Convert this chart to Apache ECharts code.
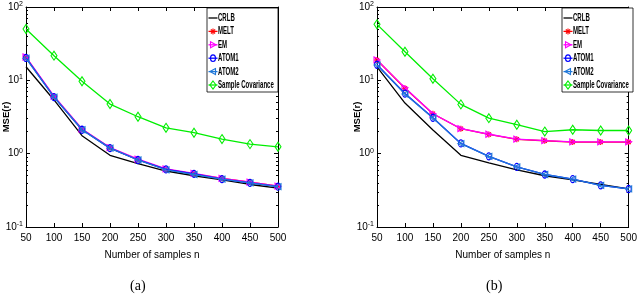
<!DOCTYPE html>
<html><head><meta charset="utf-8">
<script src="https://cdn.jsdelivr.net/npm/echarts@6/dist/echarts.min.js"></script>
<style>html,body{margin:0;padding:0;background:#fff}#c{width:640px;height:294px}</style>
</head><body><div id="c"></div>
<script>
const samples = [50,100,150,200,250,300,350,400,450,500];
const seriesNames = ['CRLB','MELT','EM','ATOM1','ATOM2','Sample Covariance'];
// panel (a)
const crlbA  = [15.3, 5.4, 1.76, 0.95, 0.73, 0.58, 0.50, 0.44, 0.38, 0.34];
const meltA  = [20.5, 6.0, 2.15, 1.20, 0.83, 0.61, 0.53, 0.46, 0.41, 0.36];
const emA    = [20.8, 6.1, 2.17, 1.21, 0.84, 0.62, 0.54, 0.46, 0.41, 0.36];
const atom1A = [20.2, 5.9, 2.12, 1.19, 0.82, 0.61, 0.53, 0.45, 0.40, 0.355];
const atom2A = [20.0, 5.9, 2.12, 1.19, 0.82, 0.60, 0.52, 0.45, 0.40, 0.355];
const scA    = [50, 21.7, 9.7, 4.75, 3.19, 2.25, 1.93, 1.58, 1.35, 1.24];
// panel (b)
const crlbB  = [15.3, 4.9, 2.1, 0.95, 0.75, 0.60, 0.50, 0.44, 0.38, 0.33];
const meltB  = [18.9, 7.8, 3.5, 2.19, 1.83, 1.57, 1.50, 1.44, 1.44, 1.44];
const emB    = [19.0, 7.9, 3.5, 2.20, 1.84, 1.58, 1.51, 1.45, 1.45, 1.45];
const atom1B = [16.3, 6.6, 3.09, 1.38, 0.92, 0.66, 0.52, 0.45, 0.37, 0.33];
const atom2B = [16.2, 6.5, 3.07, 1.37, 0.92, 0.66, 0.52, 0.45, 0.37, 0.33];
const scB    = [58, 24.5, 10.5, 4.7, 3.05, 2.48, 2.0, 2.12, 2.07, 2.07];
const yTicks = [0.1, 1, 10, 100];
const yTickExp = ['-1','0','1','2'];

const FONT = 'Liberation Sans, Arial, sans-serif';
const styles = {
  'CRLB': {color:'#000000', symbol:'none', size:0},
  'MELT': {color:'#ff0000', symbol:'path://M0,-10L0,10M-10,0L10,0M-7,-7L7,7M-7,7L7,-7', size:6},
  'EM': {color:'#ff00ff', symbol:'triangle', rotate:-90, size:6},
  'ATOM1': {color:'#0000ff', symbol:'circle', size:[5,7]},
  'ATOM2': {color:'#1f77d8', symbol:'triangle', rotate:90, size:6},
  'Sample Covariance': {color:'#00ee00', symbol:'diamond', size:[6,9]}
};
const dataA = [crlbA, meltA, emA, atom1A, atom2A, scA];
const dataB = [crlbB, meltB, emB, atom1B, atom2B, scB];

function mkSeries(idx, arrs) {
  return seriesNames.map((n, i) => {
    const s = styles[n];
    return {
      name: n, type: 'line', xAxisIndex: idx*2, yAxisIndex: idx*2,
      data: samples.map((x, k) => [x, arrs[i][k]]),
      symbol: s.symbol, symbolSize: s.size, symbolRotate: s.rotate || 0,
      showSymbol: s.symbol !== 'none',
      lineStyle: {color: s.color, width: 1.3},
      itemStyle: {color: 'rgba(255,255,255,0)', borderColor: s.color, borderWidth: 1.1},
      emphasis: {disabled: true}, animation: false, z: 2 + i
    };
  });
}

function yFmt(v) {
  const i = yTicks.findIndex(t => Math.abs(t - v) < 1e-9);
  return i >= 0 ? '10{s|' + yTickExp[i] + '}' : '';
}

function axesFor(g) {
  const xs = [{
    type:'value', gridIndex:g, min:50, max:500, interval:50, position:'bottom',
    axisLine:{lineStyle:{color:'#000', width:1}}, axisTick:{inside:true, length:4, lineStyle:{color:'#000'}},
    axisLabel:{color:'#000', fontFamily:FONT, fontSize:10, margin:6},
    splitLine:{show:false},
    name:'Number of samples n', nameLocation:'middle', nameGap:23,
    nameTextStyle:{color:'#000', fontFamily:FONT, fontSize:10}
  },{
    type:'value', gridIndex:g, min:50, max:500, interval:50, position:'top',
    axisLine:{lineStyle:{color:'#000', width:1}}, axisTick:{inside:true, length:4, lineStyle:{color:'#000'}},
    axisLabel:{show:false}, splitLine:{show:false}
  }];
  const ys = [{
    type:'log', gridIndex:g, min:0.1, max:100, logBase:10, position:'left',
    axisLine:{show:true, lineStyle:{color:'#000', width:1}}, axisTick:{inside:true, length:4, lineStyle:{color:'#000'}},
    minorTick:{show:true, splitNumber:9, length:2, lineStyle:{color:'#000'}},
    axisLabel:{color:'#000', fontFamily:FONT, fontSize:10, margin:3, formatter: yFmt,
      rich:{s:{fontSize:7, verticalAlign:'top', padding:[0,0,6,0], fontFamily:FONT}}},
    splitLine:{show:false},
    name:'MSE(r)', nameLocation:'middle', nameGap:15, nameRotate:90, nameMoveOverlap:false,
    nameTextStyle:{color:'#000', fontFamily:FONT, fontSize:9.5, fontWeight:'bold'}
  },{
    type:'log', gridIndex:g, min:0.1, max:100, logBase:10, position:'right',
    axisLine:{show:true, lineStyle:{color:'#000', width:1}}, axisTick:{inside:true, length:4, lineStyle:{color:'#000'}},
    minorTick:{show:true, splitNumber:9, length:2, lineStyle:{color:'#000'}},
    axisLabel:{show:false}, splitLine:{show:false}
  }];
  return {xs, ys};
}
const a0 = axesFor(0), a1 = axesFor(1);

// Legend drawn as graphic so the condensed MATLAB-like text can be reproduced
function legendMarker(name, cx, cy) {
  const c = styles[name].color;
  const st = {stroke: c, fill: 'none', lineWidth: 1.1};
  const ln = (x1,y1,x2,y2) => ({type:'line', shape:{x1,y1,x2,y2}, style:st});
  if (name === 'MELT') return [ln(cx,cy-3,cx,cy+3), ln(cx-3,cy,cx+3,cy), ln(cx-2.1,cy-2.1,cx+2.1,cy+2.1), ln(cx-2.1,cy+2.1,cx+2.1,cy-2.1)];
  if (name === 'EM') return [{type:'polygon', shape:{points:[[cx-2.5,cy-3],[cx+3,cy],[cx-2.5,cy+3]]}, style:st}];
  if (name === 'ATOM1') return [{type:'ellipse', shape:{cx:cx, cy:cy, rx:2.5, ry:3.3}, style:st}];
  if (name === 'ATOM2') return [{type:'polygon', shape:{points:[[cx+2.5,cy-3],[cx-3,cy],[cx+2.5,cy+3]]}, style:st}];
  if (name === 'Sample Covariance') return [{type:'polygon', shape:{points:[[cx,cy-4],[cx+3,cy],[cx,cy+4],[cx-3,cy]]}, style:st}];
  return [];
}
function legendGraphic(x0, y0) {
  const w = 71, h = 84, els = [];
  els.push({type:'rect', shape:{x:x0, y:y0, width:w, height:h}, style:{fill:'#fff', stroke:'#000', lineWidth:0.8}, z:100});
  seriesNames.forEach((n, i) => {
    const cy = y0 + 10 + i * 13.4;
    els.push({type:'line', shape:{x1:x0+1.5, y1:cy, x2:x0+10.5, y2:cy}, style:{stroke: styles[n].color, lineWidth:1.3}, z:101});
    legendMarker(n, x0 + 6, cy).forEach(m => { m.z = 102; els.push(m); });
    els.push({type:'text', x:x0+11, y:cy, scaleX:0.55, z:103,
      style:{text:n, font:'bold 11px Liberation Sans, Arial, sans-serif', fill:'#000', verticalAlign:'middle', align:'left'}});
  });
  return els;
}

const chart = echarts.init(document.getElementById('c'), null, {renderer:'canvas'});
chart.setOption({
  animation:false,
  backgroundColor:'#fff',
  grid:[{left:21, right:362, top:7, bottom:67},{left:377, right:7, top:7, bottom:67}],
  xAxis:[...a0.xs, ...a1.xs],
  yAxis:[...a0.ys, ...a1.ys],
  series:[...mkSeries(0, dataA), ...mkSeries(1, dataB)],
  graphic:[
    ...legendGraphic(207, 8),
    ...legendGraphic(562, 8),
    {type:'text', left:130, top:279, style:{text:'(a)', font:'14px Liberation Serif, Times New Roman, serif', fill:'#000'}},
    {type:'text', left:486, top:279, style:{text:'(b)', font:'14px Liberation Serif, Times New Roman, serif', fill:'#000'}}
  ]
});
</script></body></html>
